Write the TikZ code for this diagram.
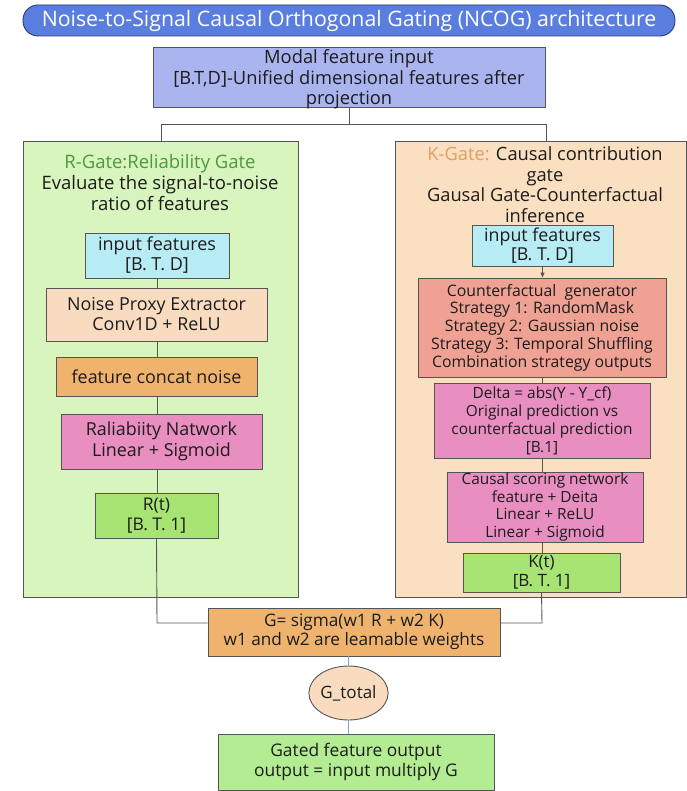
\documentclass[tikz,border=0pt]{standalone}
\usepackage{fontspec}
\setmainfont{Open Sans}
\usetikzlibrary{shapes.geometric,arrows.meta}
\definecolor{titleblue}{HTML}{5A7DE0}
\definecolor{titleedge}{HTML}{2B3A78}
\definecolor{modalfill}{HTML}{AAB5F0}
\definecolor{rpanel}{HTML}{D8F5BE}
\definecolor{kpanel}{HTML}{FADFC0}
\definecolor{cyanfill}{HTML}{B8ECF4}
\definecolor{peachfill}{HTML}{F9DCC0}
\definecolor{orangefill}{HTML}{EFB36E}
\definecolor{pinkfill}{HTML}{E88EC0}
\definecolor{salmonfill}{HTML}{EFA294}
\definecolor{greenfill}{HTML}{A8E474}
\definecolor{outfill}{HTML}{B4EC94}
\definecolor{edgegray}{HTML}{555555}
\definecolor{rtitle}{HTML}{4E9A3E}
\definecolor{ktitle}{HTML}{E0A060}
\definecolor{bluelink}{HTML}{8A9AD8}
\definecolor{textdark}{HTML}{1C1C1C}
\tikzset{
  every node/.style={text=textdark},
  box/.style={draw=edgegray, line width=0.9pt, rectangle, align=center, inner sep=0pt},
  panel/.style={draw=edgegray, line width=0.9pt, rectangle, inner sep=0pt},
  link/.style={draw=edgegray, line width=0.9pt},
  blink/.style={draw=bluelink, line width=0.9pt},
}
\begin{document}
\begin{tikzpicture}[x=1pt,y=-1pt]
\useasboundingbox (0,0) rectangle (686,791);
\fill[white] (0,0) rectangle (686,791);
% title
\node[draw=titleedge, line width=0.9pt, fill=titleblue, rounded corners=15pt,
  minimum width=652pt, minimum height=31pt, inner sep=0pt,
  font=\fontsize{21.3}{24}\selectfont, text=white] (title) at (349,20.5)
  {Noise-to-Signal Causal Orthogonal Gating (NCOG) architecture};
% modal
\node[box, fill=modalfill, minimum width=392pt, minimum height=60pt] (modal) at (349,77) {};
\node[align=center, inner sep=0pt, font=\fontsize{18.3}{20.5}\selectfont] (modaltext) at (349,79.5)
  {Modal feature input\\{}[B.T,D]-Unified dimensional features after\\projection};
% panels
\node[panel, fill=rpanel, minimum width=275pt, minimum height=456pt] (rpan) at (160.5,369) {};
\node[panel, fill=kpanel, minimum width=291pt, minimum height=456pt] (kpan) at (540.5,369) {};
\coordinate (split) at (349,124);
\coordinate (rdrop) at (161,124);
\coordinate (kdrop) at (546,124);
\draw[link] (modal.south) -- (split);
\draw[link] (rdrop) -- (kdrop);
\draw[link] (rdrop) -- (rdrop |- rpan.north);
\draw[link] (kdrop) -- (kdrop |- kpan.north);
% R panel text
\node[align=center, font=\fontsize{18.5}{21}\selectfont] (rhead) at (160,183)
  {\textcolor{rtitle}{R-Gate:Reliability Gate}\\Evaluate the signal-to-noise\\ratio of features};
% R chain
\node[box, fill=cyanfill, minimum width=144pt, minimum height=45pt, font=\fontsize{18}{20}\selectfont] (rin) at (157,255.5) {input features\\{}[B. T. D]};
\node[box, fill=peachfill, minimum width=221pt, minimum height=53pt, font=\fontsize{17.9}{20}\selectfont] (rnoise) at (156.5,314.5) {Noise Proxy Extractor\\Conv1D + ReLU};
\node[box, fill=orangefill, minimum width=201pt, minimum height=39pt, font=\fontsize{17.9}{20}\selectfont] (rcat) at (156.5,376.5) {feature concat noise};
\node[box, fill=pinkfill, minimum width=201pt, minimum height=55pt, font=\fontsize{17.9}{21}\selectfont] (rnet) at (161.5,441.5) {Raliabiity Natwork\\Linear + Sigmoid};
\node[box, fill=greenfill, minimum width=123pt, minimum height=45pt, font=\fontsize{17.5}{20}\selectfont] (rt) at (156.5,515.5) {R(t)\\{}[B. T. 1]};
\draw[link] (rin.south) -- (rin.south |- rnoise.north);
\draw[link] (rin.south |- rnoise.south) -- (rin.south |- rcat.north);
\draw[link] (rin.south |- rcat.south) -- (rin.south |- rnet.north);
\draw[link] (rin.south |- rnet.south) -- (rin.south |- rt.north);
% K panel text
\node[align=center, font=\fontsize{18.3}{20.5}\selectfont] (khead) at (545,184.5)
  {\textcolor{ktitle}{K-Gate:} Causal contribution\\gate\\Gausal Gate-Counterfactual\\inference};
% K chain
\node[box, fill=cyanfill, minimum width=141pt, minimum height=41pt, font=\fontsize{17.8}{19}\selectfont] (kin) at (542.5,245.5) {input features\\{}[B. T. D]};
\node[box, fill=salmonfill, minimum width=248pt, minimum height=99pt, font=\fontsize{15.8}{17.8}\selectfont] (kcf) at (542,327.5)
  {Counterfactual\ \ generator\\Strategy 1: RandomMask\\Strategy 2: Gaussian noise\\Strategy 3: Temporal Shuffling\\Combination strategy outputs};
\node[box, fill=pinkfill, minimum width=216pt, minimum height=75pt, font=\fontsize{15.4}{18}\selectfont] (kdelta) at (542,420.5)
  {Delta = abs(Y - Y\_cf)\\Original prediction vs\\counterfactual prediction\\{}[B.1]};
\node[box, fill=pinkfill, minimum width=196pt, minimum height=70pt, font=\fontsize{15.4}{17.5}\selectfont] (kscore) at (545,507)
  {Causal scoring network\\feature + Deita\\Linear + ReLU\\Linear + Sigmoid};
\node[box, fill=greenfill, minimum width=157pt, minimum height=39pt, font=\fontsize{17}{19}\selectfont] (kt) at (541.5,572.5) {K(t)\\{}[B. T. 1]};
\draw[link, -{Triangle[length=5pt,width=4pt]}] (kin.south) -- (kin.south |- kcf.north);
\draw[link] (kin.south |- kcf.south) -- (kin.south |- kdelta.north);
\draw[link] (kin.south |- kdelta.south) -- (kin.south |- kscore.north);
\draw[link] (kin.south |- kscore.south) -- (kin.south |- kt.north);
% G
\node[box, fill=orangefill, minimum width=292pt, minimum height=48pt, font=\fontsize{17.2}{19}\selectfont] (g) at (354,632)
  {G= sigma(w1 R + w2 K)\\w1 and w2 are leamable weights};
\coordinate (rjoin) at (157,623);
\coordinate (kjoin) at (542,623);
\draw[link] (rt.south) -- (rjoin) -- (rjoin -| g.west);
\draw[link] (kt.south) -- (kjoin) -- (kjoin -| g.east);
% ellipse
\node[draw=edgegray, line width=0.9pt, ellipse, fill=peachfill, minimum width=73pt, minimum height=54pt, inner sep=0pt,
  font=\fontsize{17}{20}\selectfont] (gt) at (348.5,693) {G\_total};
\node[box, fill=outfill, minimum width=276pt, minimum height=56pt, font=\fontsize{17.4}{20}\selectfont] (out) at (356,762)
  {Gated feature output\\output = input multiply G};
\draw[blink] (gt.north |- g.south) -- (gt.north);
\draw[blink] (gt.south) -- (gt.south |- out.north);
\end{tikzpicture}
\end{document}
